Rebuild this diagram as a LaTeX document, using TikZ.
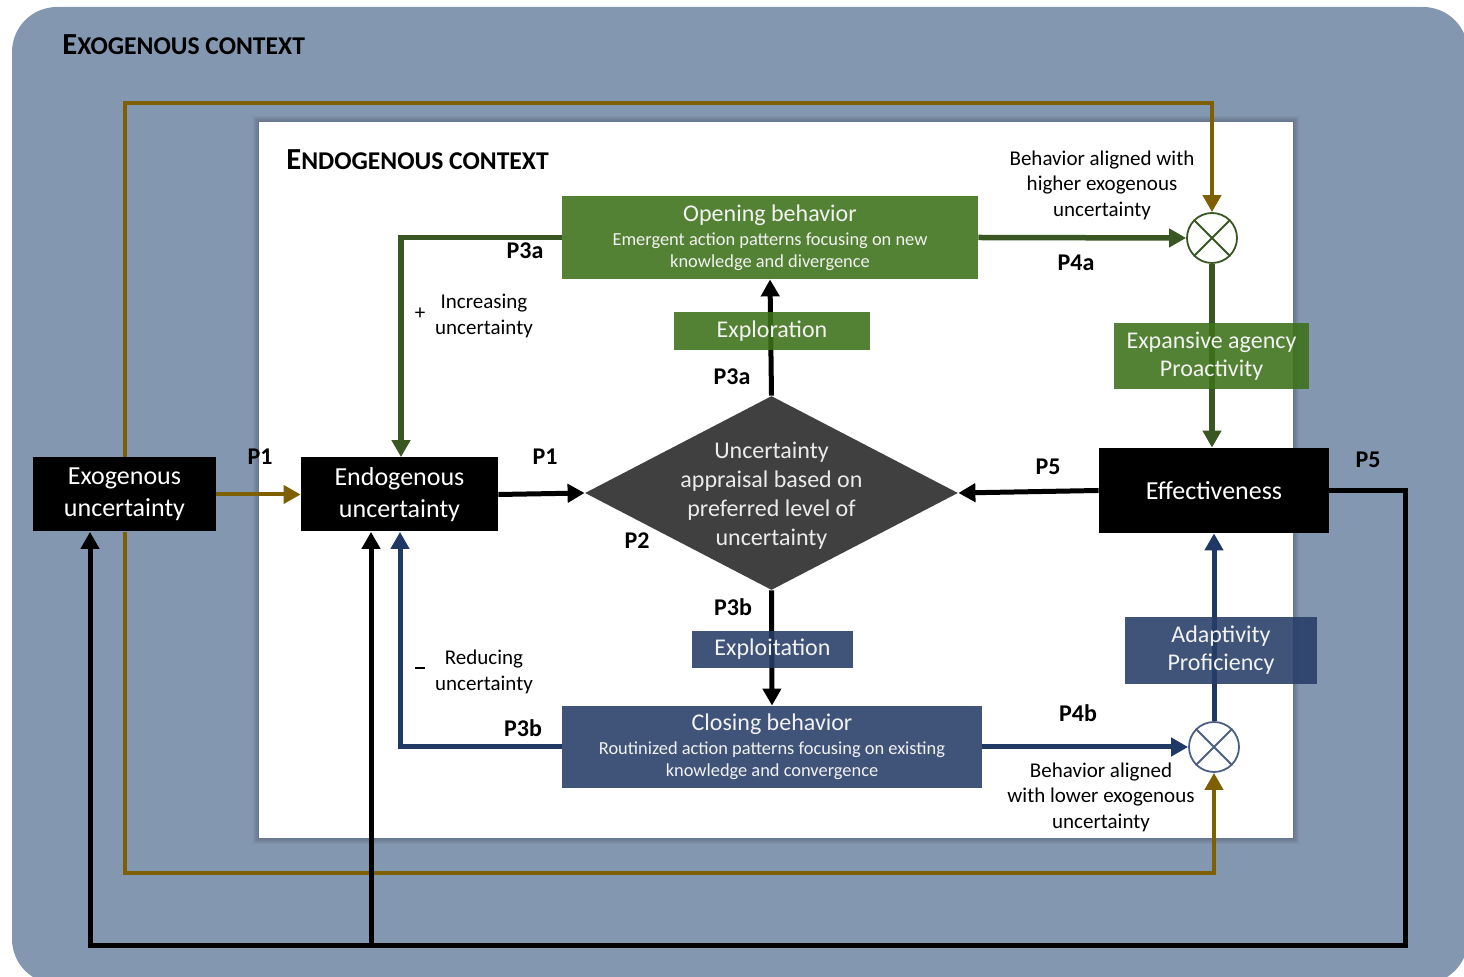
\documentclass[tikz,border=0pt]{standalone}
\usepackage{fontspec}
\setmainfont{Carlito}
\usetikzlibrary{arrows.meta,shapes.geometric,positioning}

\definecolor{exobg}{RGB}{132,151,176}
\definecolor{exobrown}{RGB}{127,96,0}
\definecolor{opengreen}{RGB}{84,130,53}
\definecolor{linegreen}{RGB}{56,87,35}
\definecolor{closeblue}{RGB}{64,84,122}
\definecolor{lineblue}{RGB}{31,56,100}
\definecolor{apprgray}{RGB}{64,64,64}
% darker fills for the see-through tags
\definecolor{taggreen}{RGB}{61,113,25}
\definecolor{tagblue}{RGB}{38,61,104}

\begin{document}
\begin{tikzpicture}[x=0.5pt,y=-0.5pt,>={Triangle[length=8.5pt,width=9pt]}]
    \tikzset{% styles for boxes, labels and lines
    blk/.style={fill=black, text=white, align=center, inner sep=0pt, font=\fontsize{13}{16}\selectfont},
    behav/.style={inner sep=0pt, align=center, text=white!95!black},
    tag/.style={inner sep=0pt, align=center, text=white!95!black, fill opacity=0.88, text opacity=1, font=\fontsize{12}{14}\selectfont},
    mult/.style={circle, draw, fill=white, line width=0.9pt, minimum size=25pt, inner sep=0pt},
    plabel/.style={font=\bfseries\fontsize{12}{14}\selectfont, inner sep=0pt},
    note/.style={align=center, inner sep=0pt, font=\fontsize{10.5}{12.75}\selectfont},
    head/.style={anchor=base west, inner sep=0pt, font=\bfseries},
    exoline/.style={exobrown, line width=2pt},
    blkline/.style={black, line width=2.5pt},
    grnline/.style={linegreen, line width=2.75pt},
    bluline/.style={lineblue, line width=2.5pt},
    }
    \useasboundingbox (0,0) rectangle (1464,977);
    \clip (0,0) rectangle (1464,977);

    % Contexts
    \fill[exobg, rounded corners=22.5pt] (12,7) rectangle (1468,984);
    \foreach \s in {1,...,6}
        \fill[black, opacity=0.035] (259-\s,122-\s) rectangle (1293+\s,838+\s);
    \fill[white] (259,122) rectangle (1293,838);
    \node[head] (exohead) at (62,55) {\fontsize{15.3}{17}\selectfont E\fontsize{12.8}{14}\selectfont XOGENOUS CONTEXT};
    \node[head] (endohead) at (286,170) {\fontsize{15.3}{17}\selectfont E\fontsize{12.8}{14}\selectfont NDOGENOUS CONTEXT};

    % Nodes
    \node[blk, minimum width=91.5pt, minimum height=37pt] (exounc) at (124.5,494.5) {Exogenous\\uncertainty};
    \node[blk, minimum width=98.5pt, minimum height=37pt] (endounc) at (399.5,494.5) {Endogenous\\uncertainty};
    \node[blk, minimum width=115pt, minimum height=42.5pt] (effect) at (1214,490.5) {Effectiveness};
    \node[diamond, fill=apprgray, minimum width=186.5pt, minimum height=97pt, inner sep=0pt] (appraisal) at (771.5,493) {};
    \node[align=center, text=white!92!black, font=\fontsize{12}{14.5}\selectfont] at ([yshift=-1.5pt]appraisal.center) {Uncertainty\\appraisal based on\\preferred level of\\uncertainty};
    \node[behav, fill=opengreen, minimum width=208pt, minimum height=41.5pt] (opening) at (770,237.5)
        {{\fontsize{12}{11.5}\selectfont Opening behavior}\\[0pt]
         {\fontsize{9.2}{11}\selectfont Emergent action patterns focusing on new}\\[-1pt]
         {\fontsize{9.2}{11}\selectfont knowledge and divergence}};
    \node[behav, fill=closeblue, minimum width=210pt, minimum height=41pt] (closing) at (772,747)
        {{\fontsize{12}{11.5}\selectfont Closing behavior}\\[0pt]
         {\fontsize{9.2}{11}\selectfont Routinized action patterns focusing on existing}\\[-1pt]
         {\fontsize{9.2}{11}\selectfont knowledge and convergence}};
    \node[mult, draw=linegreen] (mhigh) at (1212,238) {};
    \node[mult, draw=lineblue!80!white] (mlow) at (1214,747) {};
    \draw[linegreen, line width=0.9pt] (mhigh.north west) -- (mhigh.south east) (mhigh.north east) -- (mhigh.south west);
    \draw[lineblue!80!white, line width=0.9pt] (mlow.north west) -- (mlow.south east) (mlow.north east) -- (mlow.south west);

    % Loop coordinates
    \coordinate (ytop) at (0,103);
    \coordinate (ybrown) at (0,873);
    \coordinate (yblack) at (0,946);
    \coordinate (xblack) at (1405,0);

    % Edges
    \draw[exoline, ->] (exounc.north) -- (exounc.north |- ytop) -| (mhigh.north);
    \draw[exoline, ->] (exounc.south) -- (exounc.south |- ybrown) -| (mlow.south);
    \draw[exoline, ->] (exounc.east) -- (endounc.west);
    \draw[blkline, ->] (effect.east) -- (effect.east -| xblack) -- (xblack |- yblack) -| ([xshift=-17.25pt]exounc.south);
    \draw[blkline, ->] ([xshift=-14.25pt]endounc.south |- yblack) -- ([xshift=-14.25pt]endounc.south);
    \draw[blkline, ->] (endounc.east) -- (appraisal.west);
    \draw[blkline, ->] (effect.west) -- (appraisal.east);
    \draw[blkline, ->] (appraisal.north) -- (opening.south);
    \draw[blkline, ->] (appraisal.south) -- (closing.north);
    \draw[grnline, ->] (opening.west) -| ([xshift=0.75pt]endounc.north);
    \draw[grnline, ->] (opening.east) -- (mhigh.west);
    \draw[grnline, ->] (mhigh.south) -- (mhigh.south |- effect.north);
    \draw[bluline, ->] (closing.west) -| ([xshift=0.25pt]endounc.south);
    \draw[bluline, ->] (closing.east) -- (mlow.west);
    \draw[bluline, ->] (mlow.north) -- (mlow.north |- effect.south);

    % Tags over the lines
    \node[tag, fill=taggreen, minimum width=98pt, minimum height=19pt] (explore) at (772,331) {Exploration};
    \node[tag, fill=tagblue, minimum width=80.5pt, minimum height=18.5pt] (exploit) at (772.5,649.5) {Exploitation};
    \node[tag, fill=taggreen, minimum width=97.5pt, minimum height=33pt] (expand) at (1211.5,356) {Expansive agency\\Proactivity};
    \node[tag, fill=tagblue, minimum width=96pt, minimum height=33.5pt] (adapt) at (1221,650.5) {Adaptivity\\Proficiency};

    % Labels
    \node[plabel] (p1a) at (260,457) {P1};
    \node[plabel] (p1b) at (545,457) {P1};
    \node[plabel] (p3aa) at (525,251) {P3a};
    \node[plabel] (p3ab) at (732,377) {P3a};
    \node[plabel] (p2) at (637,541) {P2};
    \node[plabel] (p3ba) at (733,607) {P3b};
    \node[plabel] (p3bb) at (523,728) {P3b};
    \node[plabel] (p4a) at (1076,263) {P4a};
    \node[plabel] (p4b) at (1078,713) {P4b};
    \node[plabel] (p5a) at (1048,467) {P5};
    \node[plabel] (p5b) at (1368,460) {P5};
    \node[note] (plus) at (420,314) {+};
    \node[note] (incr) at (484,316) {Increasing\\uncertainty};
    \node[note] (minus) at (420,668) {\rule{5pt}{0.6pt}};
    \node[note] (redu) at (484,672) {Reducing\\uncertainty};
    \node[note] (highnote) at (1102,185) {Behavior aligned with\\higher exogenous\\uncertainty};
    \node[note] (lownote) at (1101,797) {Behavior aligned\\with lower exogenous\\uncertainty};

\end{tikzpicture}
\end{document}
